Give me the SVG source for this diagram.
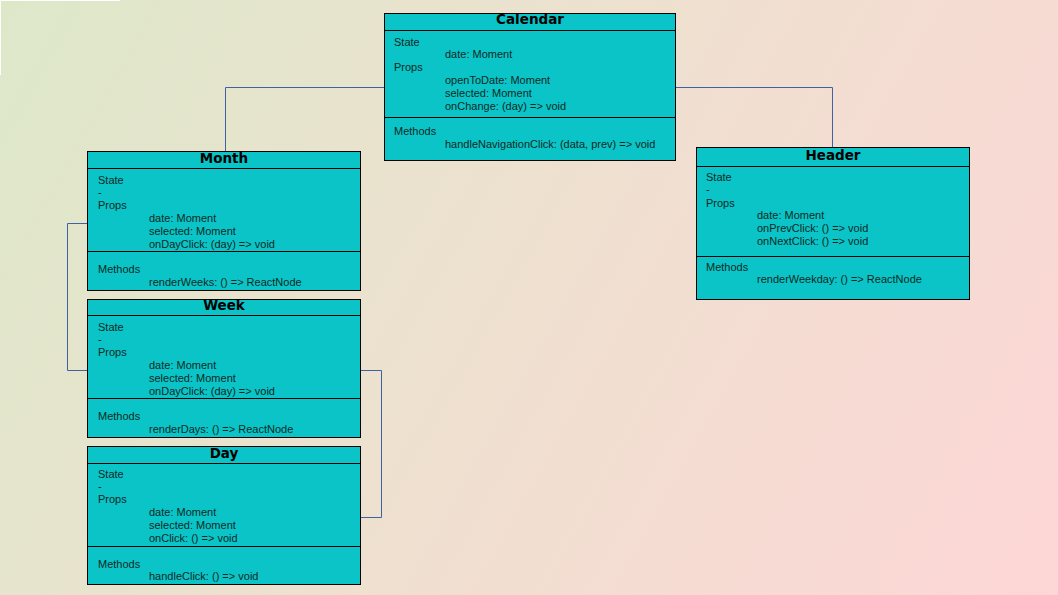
<svg xmlns="http://www.w3.org/2000/svg" width="1058" height="595" viewBox="0 0 1058 595">
<defs>
<linearGradient id="bg" x1="0" y1="0" x2="1058" y2="595" gradientUnits="userSpaceOnUse">
<stop offset="0" stop-color="#dde8c9"/>
<stop offset="0.5" stop-color="#efe0d0"/>
<stop offset="1" stop-color="#fdd6d6"/>
</linearGradient>
<style>
.box{fill:#0ac4c8;stroke:#000;stroke-width:1}
.sep{stroke:#000;stroke-width:1}
.title{font-family:"DejaVu Sans",sans-serif;font-weight:bold;font-size:13.5px;fill:#000;text-anchor:middle}
.t{font-family:"Liberation Sans",Arial,sans-serif;font-size:11px;fill:#0e2a1e}
.conn{fill:none;stroke:#3f63a0;stroke-width:1}
</style>
</defs>
<rect x="0" y="0" width="1058" height="595" fill="url(#bg)"/>
<rect x="0" y="0" width="120" height="1" fill="#fff"/>
<rect x="0" y="0" width="1" height="75" fill="#fff"/>

<g id="connectors">
<path class="conn" d="M384 87.5 H225.5 V151"/>
<path class="conn" d="M675 87.5 H832.5 V147"/>
<path class="conn" d="M87 223.5 H67.5 V370.5 H87"/>
<path class="conn" d="M361 370.5 H381.5 V517.5 H361"/>
</g>

<g id="calendar">
<rect class="box" x="384.5" y="13.5" width="291" height="147"/>
<line class="sep" x1="384.5" y1="30.5" x2="675.5" y2="30.5"/>
<line class="sep" x1="384.5" y1="117.5" x2="675.5" y2="117.5"/>
<text class="title" x="530" y="24">Calendar</text>
<text class="t" x="394" y="46">State</text>
<text class="t" x="445" y="58">date: Moment</text>
<text class="t" x="394" y="71">Props</text>
<text class="t" x="445" y="84">openToDate: Moment</text>
<text class="t" x="445" y="97">selected: Moment</text>
<text class="t" x="445" y="110">onChange: (day) =&gt; void</text>
<text class="t" x="394" y="135">Methods</text>
<text class="t" x="445" y="148">handleNavigationClick: (data, prev) =&gt; void</text>
</g>

<g id="month">
<rect class="box" x="87.5" y="151.5" width="273" height="139"/>
<line class="sep" x1="87.5" y1="168.5" x2="360.5" y2="168.5"/>
<line class="sep" x1="87.5" y1="251.5" x2="360.5" y2="251.5"/>
<text class="title" x="224" y="163">Month</text>
<text class="t" x="98" y="184">State</text>
<text class="t" x="98" y="196">-</text>
<text class="t" x="98" y="209">Props</text>
<text class="t" x="149" y="222">date: Moment</text>
<text class="t" x="149" y="235">selected: Moment</text>
<text class="t" x="149" y="248">onDayClick: (day) =&gt; void</text>
<text class="t" x="98" y="273">Methods</text>
<text class="t" x="149" y="286">renderWeeks: () =&gt; ReactNode</text>
</g>

<g id="week">
<rect class="box" x="87.5" y="299.5" width="273" height="138"/>
<line class="sep" x1="87.5" y1="315.5" x2="360.5" y2="315.5"/>
<line class="sep" x1="87.5" y1="398.5" x2="360.5" y2="398.5"/>
<text class="title" x="224" y="310">Week</text>
<text class="t" x="98" y="331">State</text>
<text class="t" x="98" y="343">-</text>
<text class="t" x="98" y="356">Props</text>
<text class="t" x="149" y="369">date: Moment</text>
<text class="t" x="149" y="382">selected: Moment</text>
<text class="t" x="149" y="395">onDayClick: (day) =&gt; void</text>
<text class="t" x="98" y="420">Methods</text>
<text class="t" x="149" y="433">renderDays: () =&gt; ReactNode</text>
</g>

<g id="day">
<rect class="box" x="87.5" y="446.5" width="273" height="138"/>
<line class="sep" x1="87.5" y1="463.5" x2="360.5" y2="463.5"/>
<line class="sep" x1="87.5" y1="546.5" x2="360.5" y2="546.5"/>
<text class="title" x="224" y="458">Day</text>
<text class="t" x="98" y="478">State</text>
<text class="t" x="98" y="490">-</text>
<text class="t" x="98" y="503">Props</text>
<text class="t" x="149" y="516">date: Moment</text>
<text class="t" x="149" y="529">selected: Moment</text>
<text class="t" x="149" y="542">onClick: () =&gt; void</text>
<text class="t" x="98" y="568">Methods</text>
<text class="t" x="149" y="580">handleClick: () =&gt; void</text>
</g>

<g id="header">
<rect class="box" x="696.5" y="147.5" width="273" height="152"/>
<line class="sep" x1="696.5" y1="166.5" x2="969.5" y2="166.5"/>
<line class="sep" x1="696.5" y1="256.5" x2="969.5" y2="256.5"/>
<text class="title" x="833" y="159.5">Header</text>
<text class="t" x="706" y="181">State</text>
<text class="t" x="706" y="193">-</text>
<text class="t" x="706" y="207">Props</text>
<text class="t" x="757" y="219">date: Moment</text>
<text class="t" x="757" y="232">onPrevClick: () =&gt; void</text>
<text class="t" x="757" y="245">onNextClick: () =&gt; void</text>
<text class="t" x="706" y="271">Methods</text>
<text class="t" x="757" y="283">renderWeekday: () =&gt; ReactNode</text>
</g>
</svg>
